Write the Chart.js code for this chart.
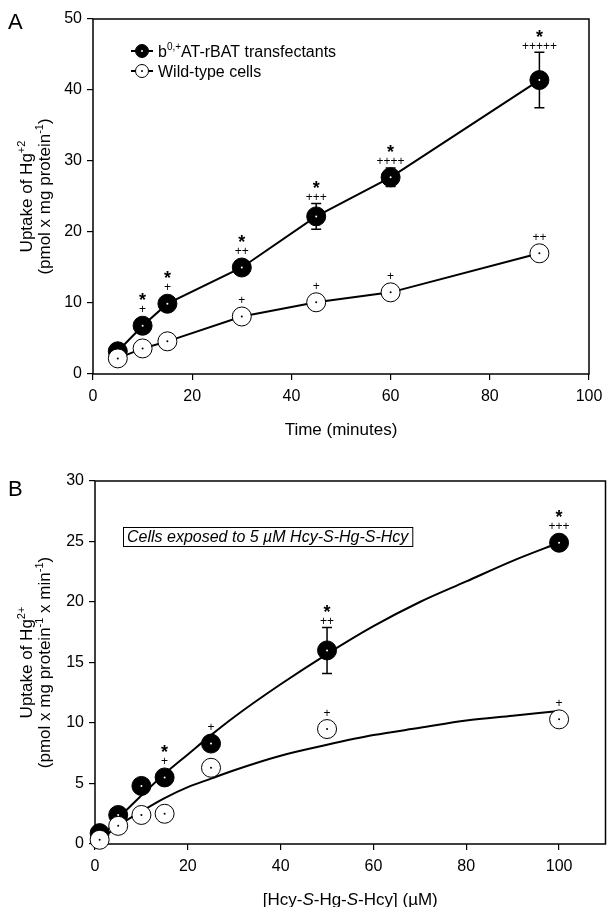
<!DOCTYPE html>
<html>
<head>
<meta charset="utf-8">
<title>Hg uptake</title>
<script src="https://cdn.jsdelivr.net/npm/chart.js"></script>
<style>
  body { margin: 0; background: #fff; width: 616px; height: 907px; overflow: hidden; position: relative; }
  .box { position: absolute; left: 0; width: 616px; }
  #boxA { top: 0; height: 440px; }
  #boxB { top: 440px; height: 467px; }
</style>
</head>
<body>
<div class="box" id="boxA"><canvas id="chartA"></canvas></div>
<div class="box" id="boxB"><canvas id="chartB"></canvas></div>
<script>
// ---- Panel A: uptake vs time ----
const timeMin = [5, 10, 15, 30, 45, 60, 90];
const transfectA = [3.2, 6.8, 9.9, 15.0, 22.2, 27.7, 41.4];
const transfectAErr = [0, 0, 0, 0, 1.8, 1.3, 3.9];
const wildA = [2.2, 3.6, 4.6, 8.1, 10.1, 11.5, 17.0];
const starA = ['', '*', '*', '*', '*', '*', '*'];
const plusTransA = ['', '+', '+', '++', '+++', '++++', '+++++'];
const plusWildA = ['', '', '', '+', '+', '+', '++'];

// ---- Panel B: uptake vs concentration ----
const concB = [1, 5, 10, 15, 25, 50, 100];
const transfectB = [0.9, 2.4, 4.8, 5.5, 8.3, 16.0, 24.9];
const transfectBErr = [0, 0, 0, 0, 0, 1.9, 0];
const wildB = [0.35, 1.5, 2.4, 2.5, 6.3, 9.5, 10.3];
const starB = ['', '', '', '*', '', '*', '*'];
const plusTransB = ['', '', '', '+', '+', '++', '+++'];
const plusWildB = ['', '', '', '', '', '+', '+'];
// fitted curves
const fitX = [1, 5, 10, 15, 20, 25, 30, 40, 50, 60, 70, 80, 90, 100];
const fitTransB = [0.4, 2.1, 4.0, 5.8, 7.4, 9.0, 10.5, 13.2, 15.7, 18.0, 20.0, 21.7, 23.4, 24.9];
const fitWildB = [0.3, 1.5, 2.7, 3.8, 4.7, 5.4, 6.1, 7.3, 8.2, 9.0, 9.6, 10.2, 10.6, 11.0];

const FONT = "'Liberation Sans', Arial, Helvetica, sans-serif";
const R = 9.5;

const pts = (xs, ys) => xs.map((x, i) => ({ x: x, y: ys[i] }));

function fontFor(k, size) {
  if (k === 'sup') return Math.round(size * 0.62) + 'px ' + FONT;
  if (k === 'i') return 'italic ' + size + 'px ' + FONT;
  if (k === 'b') return 'bold ' + size + 'px ' + FONT;
  return size + 'px ' + FONT;
}
function richWidth(ctx, parts, size) {
  let w = 0;
  for (const [t, k] of parts) { ctx.font = fontFor(k, size); w += ctx.measureText(t).width; }
  return w;
}
// draws text runs with superscripts / italics, baseline at y
function drawRich(ctx, parts, x, y, size, align) {
  let cx = align === 'left' ? x : x - richWidth(ctx, parts, size) / 2;
  ctx.textAlign = 'left';
  ctx.textBaseline = 'alphabetic';
  ctx.fillStyle = '#000';
  for (const [t, k] of parts) {
    ctx.font = fontFor(k, size);
    ctx.fillText(t, cx, k === 'sup' ? y - size * 0.42 : y);
    cx += ctx.measureText(t).width;
  }
}
function drawRotated(ctx, parts, cx, cy, size) {
  ctx.save();
  ctx.translate(cx + size * 0.3, cy);
  ctx.rotate(-Math.PI / 2);
  drawRich(ctx, parts, 0, 0, size);
  ctx.restore();
}
function marker(ctx, x, y, r, filled) {
  ctx.beginPath();
  ctx.arc(x, y, r, 0, Math.PI * 2);
  ctx.fillStyle = filled ? '#000' : '#fff';
  ctx.fill();
  ctx.lineWidth = 1;
  ctx.strokeStyle = '#000';
  ctx.stroke();
  ctx.beginPath();
  ctx.arc(x, y, 1, 0, Math.PI * 2);
  ctx.fillStyle = filled ? '#fff' : '#000';
  ctx.fill();
}

// box, error bars, centre dots, significance marks
const decor = {
  id: 'decor',
  beforeDatasetsDraw(chart) {
    const { ctx, chartArea: a } = chart;
    ctx.save();
    ctx.strokeStyle = '#000';
    ctx.lineWidth = 1.5;
    ctx.strokeRect(a.left, a.top, a.right - a.left, a.bottom - a.top);
    ctx.restore();
  },
  afterDatasetsDraw(chart) {
    const ctx = chart.ctx, ys = chart.scales.y;
    ctx.save();
    chart.data.datasets.forEach((ds, i) => {
      if (!ds.dot) return;
      chart.getDatasetMeta(i).data.forEach((pt, j) => {
        const v = ds.data[j].y;
        let anchor = pt.y - R;
        if (ds.errs && ds.errs[j]) {
          const top = ys.getPixelForValue(v + ds.errs[j]);
          const bot = ys.getPixelForValue(v - ds.errs[j]);
          ctx.strokeStyle = '#000';
          ctx.lineWidth = 1.5;
          ctx.beginPath();
          ctx.moveTo(pt.x, top); ctx.lineTo(pt.x, bot);
          ctx.moveTo(pt.x - 5, top); ctx.lineTo(pt.x + 5, top);
          ctx.moveTo(pt.x - 5, bot); ctx.lineTo(pt.x + 5, bot);
          ctx.stroke();
          anchor = Math.min(anchor, top);
        }
        ctx.fillStyle = ds.dot;
        ctx.beginPath();
        ctx.arc(pt.x, pt.y, 1, 0, Math.PI * 2);
        ctx.fill();
        ctx.fillStyle = '#000';
        ctx.textAlign = 'center';
        ctx.textBaseline = 'alphabetic';
        if (ds.pluses && ds.pluses[j]) {
          ctx.font = '12px ' + FONT;
          ctx.fillText(ds.pluses[j], pt.x, anchor - 7 + 12 * 0.35);
        }
        if (ds.stars && ds.stars[j]) {
          ctx.font = 'bold 18px ' + FONT;
          ctx.fillText(ds.stars[j], pt.x, anchor - 20 + 18 * 0.57);
        }
      });
    });
    ctx.restore();
  }
};

function axis(min, max, step, pad, fit) {
  return {
    type: 'linear', min: min, max: max,
    border: { display: false },
    grid: { drawOnChartArea: false, drawTicks: true, tickLength: 6, color: '#000', lineWidth: 1.2 },
    ticks: { stepSize: step, includeBounds: false, maxRotation: 0, color: '#000', padding: pad,
             font: { family: FONT, size: 16 } },
    afterFit: fit
  };
}

function pointSet(data, filled, extra) {
  return Object.assign({
    data: data, showLine: true, tension: 0, clip: false,
    borderColor: '#000', borderWidth: 2,
    pointRadius: R, pointHoverRadius: R, pointBorderWidth: 1,
    pointBackgroundColor: filled ? '#000' : '#fff', pointBorderColor: '#000',
    dot: filled ? '#fff' : '#000'
  }, extra);
}

const common = {
  responsive: true, maintainAspectRatio: false, animation: false,
  plugins: { legend: { display: false }, tooltip: { enabled: false } }
};

// ---- Chart A ----
new Chart(document.getElementById('chartA'), {
  type: 'scatter',
  data: {
    datasets: [
      pointSet(pts(timeMin, transfectA), true,
        { label: 'transfectants', order: 1, errs: transfectAErr, stars: starA, pluses: plusTransA }),
      pointSet(pts(timeMin, wildA), false,
        { label: 'wild', order: 0, pluses: plusWildA })
    ]
  },
  options: Object.assign({}, common, {
    layout: { padding: { top: 19, right: 27, left: 0, bottom: 0 } },
    scales: {
      x: axis(0, 100, 20, 7, s => { s.height = 66; }),
      y: axis(0, 50, 10, 5, s => { s.width = 93; })
    }
  }),
  plugins: [decor, {
    id: 'textA',
    afterDraw(chart) {
      const ctx = chart.ctx, a = chart.chartArea;
      ctx.save();
      drawRich(ctx, [['A', 'n']], 8, 29, 22, 'left');
      drawRotated(ctx, [['Uptake of Hg', 'n'], ['+2', 'sup']], 27, (a.top + a.bottom) / 2, 17);
      drawRotated(ctx, [['(pmol x mg protein', 'n'], ['-1', 'sup'], [')', 'n']], 45, (a.top + a.bottom) / 2, 17);
      drawRich(ctx, [['Time (minutes)', 'n']], (a.left + a.right) / 2, 435, 17);
      // legend
      const rows = [[51, true, [['b', 'n'], ['0,+', 'sup'], ['AT-rBAT transfectants', 'n']]],
                    [71, false, [['Wild-type cells', 'n']]]];
      for (const [y, filled, parts] of rows) {
        ctx.strokeStyle = '#000'; ctx.lineWidth = 2;
        ctx.beginPath(); ctx.moveTo(131, y); ctx.lineTo(153, y); ctx.stroke();
        marker(ctx, 142, y, 6.5, filled);
        drawRich(ctx, parts, 158, y + 6, 16, 'left');
      }
      ctx.restore();
    }
  }]
});

// ---- Chart B ----
new Chart(document.getElementById('chartB'), {
  type: 'scatter',
  data: {
    datasets: [
      pointSet(pts(concB, transfectB), true,
        { label: 'transfectants', showLine: false, order: 1, errs: transfectBErr, stars: starB, pluses: plusTransB }),
      pointSet(pts(concB, wildB), false,
        { label: 'wild', showLine: false, order: 0, pluses: plusWildB }),
      { label: 'fit transfectants', data: pts(fitX, fitTransB), showLine: true, order: 2, pointRadius: 0,
        borderColor: '#000', borderWidth: 2, cubicInterpolationMode: 'monotone' },
      { label: 'fit wild', data: pts(fitX, fitWildB), showLine: true, order: 2, pointRadius: 0,
        borderColor: '#000', borderWidth: 2, cubicInterpolationMode: 'monotone' }
    ]
  },
  options: Object.assign({}, common, {
    layout: { padding: { top: 41, right: 2, left: 0, bottom: 0 } },
    scales: {
      x: axis(0, 110, 20, 7, s => { s.height = 63; }),
      y: axis(0, 30, 5, 5, s => { s.width = 95; })
    }
  }),
  plugins: [decor, {
    id: 'textB',
    afterDraw(chart) {
      const ctx = chart.ctx, a = chart.chartArea;
      ctx.save();
      drawRich(ctx, [['B', 'n']], 8, 56, 22, 'left');
      const cy = (a.top + a.bottom) / 2;
      drawRotated(ctx, [['Uptake of Hg', 'n'], ['2+', 'sup']], 27, cy, 17);
      drawRotated(ctx, [['(pmol x mg protein', 'n'], ['-1', 'sup'], [' x min', 'n'], ['-1', 'sup'], [')', 'n']], 45, cy, 17);
      drawRich(ctx, [['[Hcy-', 'n'], ['S', 'i'], ['-Hg-', 'n'], ['S', 'i'], ['-Hcy] (\u00b5M)', 'n']],
               (a.left + a.right) / 2, 465, 17);
      // note box
      const note = [['Cells exposed to 5 \u00b5M Hcy-S-Hg-S-Hcy', 'i']];
      const w = richWidth(ctx, note, 16);
      ctx.strokeStyle = '#000'; ctx.lineWidth = 1;
      ctx.strokeRect(123.5, 87.5, w + 8, 19);
      drawRich(ctx, note, 127, 102, 16, 'left');
      ctx.restore();
    }
  }]
});
</script>
</body>
</html>
